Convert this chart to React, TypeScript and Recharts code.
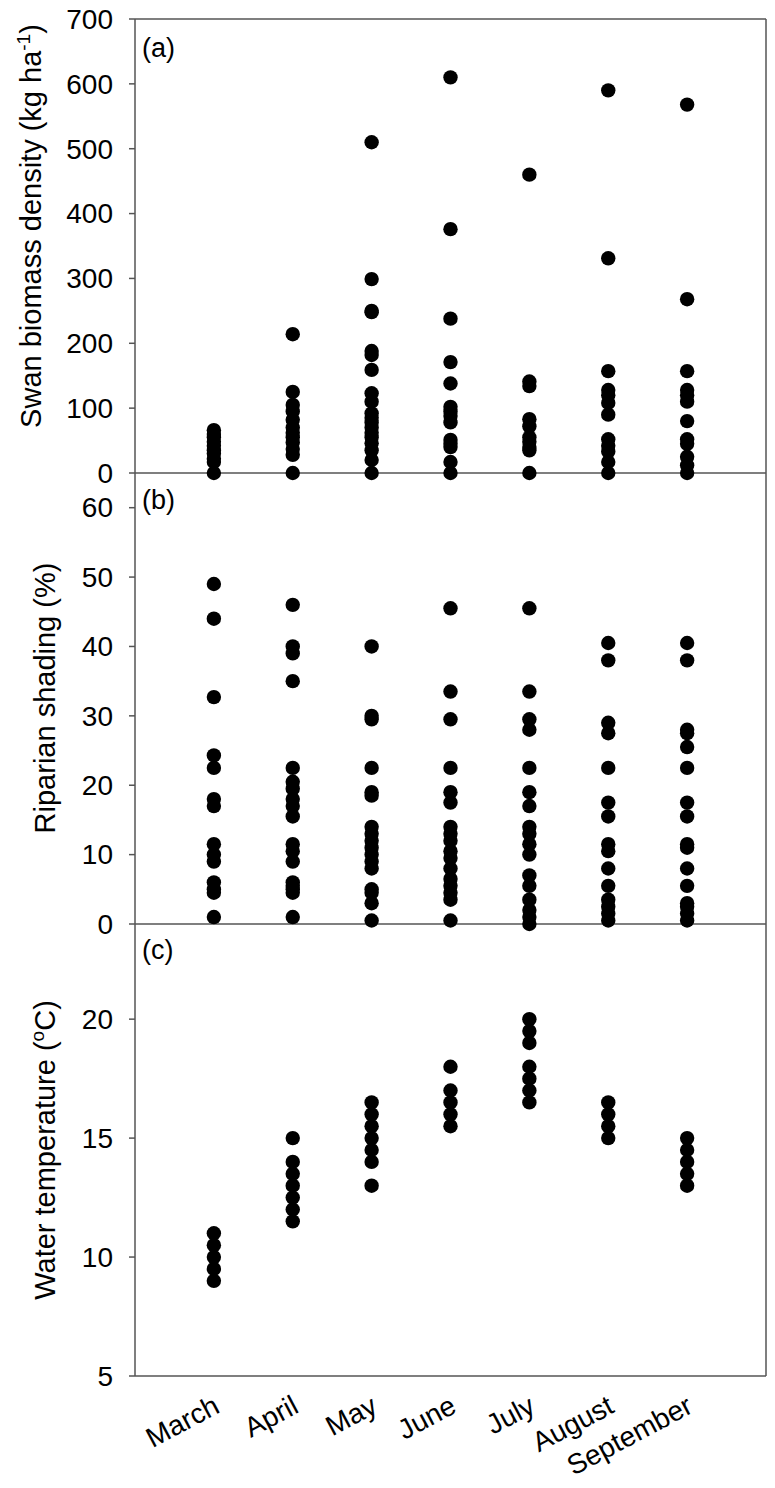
import React from 'react';
import { ScatterChart, Scatter, XAxis, YAxis, ReferenceLine } from 'recharts';

const months = ['March', 'April', 'May', 'June', 'July', 'August', 'September'];

// (a) Swan biomass density (kg ha-1)
const biomassMarch = [66, 60, 55, 48, 42, 35, 30, 22, 17, 0];
const biomassApril = [214, 125, 105, 95, 82, 70, 62, 55, 47, 37, 28, 0];
const biomassMay = [510, 299, 250, 248, 188, 182, 159, 123, 110, 92, 85, 78, 70, 62, 55, 46, 35, 20, 0];
const biomassJune = [610, 376, 238, 171, 138, 102, 95, 88, 78, 51, 45, 40, 17, 0];
const biomassJuly = [460, 141, 134, 83, 72, 55, 48, 40, 35, 0];
const biomassAugust = [590, 331, 157, 128, 120, 108, 90, 52, 42, 33, 17, 0];
const biomassSeptember = [568, 268, 157, 128, 120, 110, 80, 52, 45, 25, 12, 0];

// (b) Riparian shading (%)
const shadingMarch = [49, 44, 32.7, 24.3, 22.5, 18, 17, 11.5, 10, 9, 6, 5, 4.5, 1];
const shadingApril = [46, 40, 39, 35, 22.5, 20.5, 19.5, 18, 17, 15.5, 11.5, 10.5, 9, 6, 5.5, 5, 4.5, 1];
const shadingMay = [40, 30, 29.5, 22.5, 19, 18.5, 14, 13, 12, 11, 10, 9, 8, 5, 4.5, 3, 0.5];
const shadingJune = [45.5, 33.5, 29.5, 22.5, 19, 17.5, 14, 13, 12, 10.5, 9.5, 8, 6.5, 5.5, 4.5, 3.5, 0.5];
const shadingJuly = [45.5, 33.5, 29.5, 28, 22.5, 19, 17, 14, 13, 11.5, 10, 7, 5.5, 3.5, 2, 1, 0];
const shadingAugust = [40.5, 38, 29, 27.5, 22.5, 17.5, 15.5, 11.5, 10.5, 8, 5.5, 3.5, 2.5, 1.5, 0.5];
const shadingSeptember = [40.5, 38, 28, 27.5, 25.5, 22.5, 17.5, 15.5, 11.5, 11, 8, 5.5, 3, 2.5, 1.5, 0.5];

// (c) Water temperature (°C)
const tempMarch = [11, 10.5, 10, 9.5, 9];
const tempApril = [15, 14, 13.5, 13, 12.5, 12, 11.5];
const tempMay = [16.5, 16, 15.5, 15, 14.5, 14, 13];
const tempJune = [18, 17, 16.5, 16, 15.5];
const tempJuly = [20, 19.5, 19, 18, 17.5, 17, 16.5];
const tempAugust = [16.5, 16, 15.5, 15];
const tempSeptember = [15, 14.5, 14, 13.5, 13];

const biomassTicks = [0, 100, 200, 300, 400, 500, 600, 700];
const shadingTicks = [0, 10, 20, 30, 40, 50, 60];
const tempTicks = [5, 10, 15, 20];
const monthTicks = [1, 2, 3, 4, 5, 6, 7];

const toPoints = (groups: number[][]) =>
  groups.flatMap((vals, i) => vals.map((v) => ({ x: i + 1, y: v })));

const biomassData = toPoints([biomassMarch, biomassApril, biomassMay, biomassJune, biomassJuly, biomassAugust, biomassSeptember]);
const shadingData = toPoints([shadingMarch, shadingApril, shadingMay, shadingJune, shadingJuly, shadingAugust, shadingSeptember]);
const tempData = toPoints([tempMarch, tempApril, tempMay, tempJune, tempJuly, tempAugust, tempSeptember]);

const FONT = '"Liberation Sans", Arial, sans-serif';
const LINE = '#555';
const FS = 28;
const TFS = 29;
const W = 775;
const RIGHT = 9;
const YW = 135;

const Dot = (p: any) => <circle cx={p.cx} cy={p.cy} r={7.2} fill="#000" />;

const YTick = (p: any) => (
  <text x={p.x} y={p.y} dy="0.35em" textAnchor="end" fontSize={FS} fontFamily={FONT} fill="#000">
    {p.payload.value}
  </text>
);

const XTick = (p: any) => (
  <text
    transform={`translate(${p.x - 2},${p.y + 10}) rotate(-28)`}
    textAnchor="end"
    dominantBaseline="hanging"
    fontSize={FS}
    fontFamily={FONT}
    fill="#000"
  >
    {months[p.payload.value - 1]}
  </text>
);

const yAxisProps = {
  width: YW,
  tickSize: 6,
  tickMargin: 16,
  axisLine: { stroke: LINE, strokeWidth: 1.5 },
  tickLine: { stroke: LINE, strokeWidth: 1.5 },
  interval: 0 as const,
  tick: <YTick />,
};

export default function App() {
  return (
    <div style={{ position: 'absolute', left: 0, top: 0, width: W, height: 1488, background: '#fff' }}>
      <div style={{ position: 'absolute', left: 0, top: 0 }}>
        <ScatterChart width={W} height={500} margin={{ top: 19, right: RIGHT, bottom: 27, left: 0 }}>
          <XAxis type="number" dataKey="x" domain={[0, 8]} hide />
          <YAxis type="number" dataKey="y" domain={[0, 700]} ticks={biomassTicks} {...yAxisProps} />
          <ReferenceLine y={700} stroke={LINE} strokeWidth={1.5} />
          <ReferenceLine y={0} stroke={LINE} strokeWidth={1.5} />
          <ReferenceLine x={8} stroke={LINE} strokeWidth={1.5} />
          <Scatter data={biomassData} shape={Dot} isAnimationActive={false} />
        </ScatterChart>
      </div>
      <div style={{ position: 'absolute', left: 0, top: 440 }}>
        <ScatterChart width={W} height={500} margin={{ top: 33, right: RIGHT, bottom: 16, left: 0 }}>
          <XAxis type="number" dataKey="x" domain={[0, 8]} hide />
          <YAxis type="number" dataKey="y" domain={[0, 65]} ticks={shadingTicks} {...yAxisProps} />
          <ReferenceLine y={0} stroke={LINE} strokeWidth={1.5} />
          <ReferenceLine x={8} stroke={LINE} strokeWidth={1.5} />
          <Scatter data={shadingData} shape={Dot} isAnimationActive={false} />
        </ScatterChart>
      </div>
      <div style={{ position: 'absolute', left: 0, top: 890 }}>
        <ScatterChart width={W} height={598} margin={{ top: 34, right: RIGHT, bottom: 0, left: 0 }}>
          <XAxis
            type="number"
            dataKey="x"
            domain={[0, 8]}
            ticks={monthTicks}
            interval={0}
            height={112}
            axisLine={{ stroke: LINE, strokeWidth: 1.5 }}
            tickLine={false}
            tick={<XTick />}
          />
          <YAxis type="number" dataKey="y" domain={[5, 24]} ticks={tempTicks} {...yAxisProps} />
          <ReferenceLine x={8} stroke={LINE} strokeWidth={1.5} />
          <Scatter data={tempData} shape={Dot} isAnimationActive={false} />
        </ScatterChart>
      </div>
      <svg width={W} height={1488} style={{ position: 'absolute', left: 0, top: 0, pointerEvents: 'none' }}>
        <g fontFamily={FONT} fill="#000">
          <text x={142} y={57} fontSize={27}>(a)</text>
          <text x={142} y={509} fontSize={27}>(b)</text>
          <text x={142} y={959} fontSize={27}>(c)</text>
          <text transform="translate(41,226) rotate(-90)" textAnchor="middle" fontSize={TFS}>
            Swan biomass density (kg ha
            <tspan dy={-11} fontSize={19}>-1</tspan>
            <tspan dy={11}>)</tspan>
          </text>
          <text transform="translate(55,698) rotate(-90)" textAnchor="middle" fontSize={TFS}>
            Riparian shading (%)
          </text>
          <text transform="translate(55,1150) rotate(-90)" textAnchor="middle" fontSize={TFS}>
            Water temperature (
            <tspan dy={-11} fontSize={19}>o</tspan>
            <tspan dy={11}>C)</tspan>
          </text>
        </g>
      </svg>
    </div>
  );
}
